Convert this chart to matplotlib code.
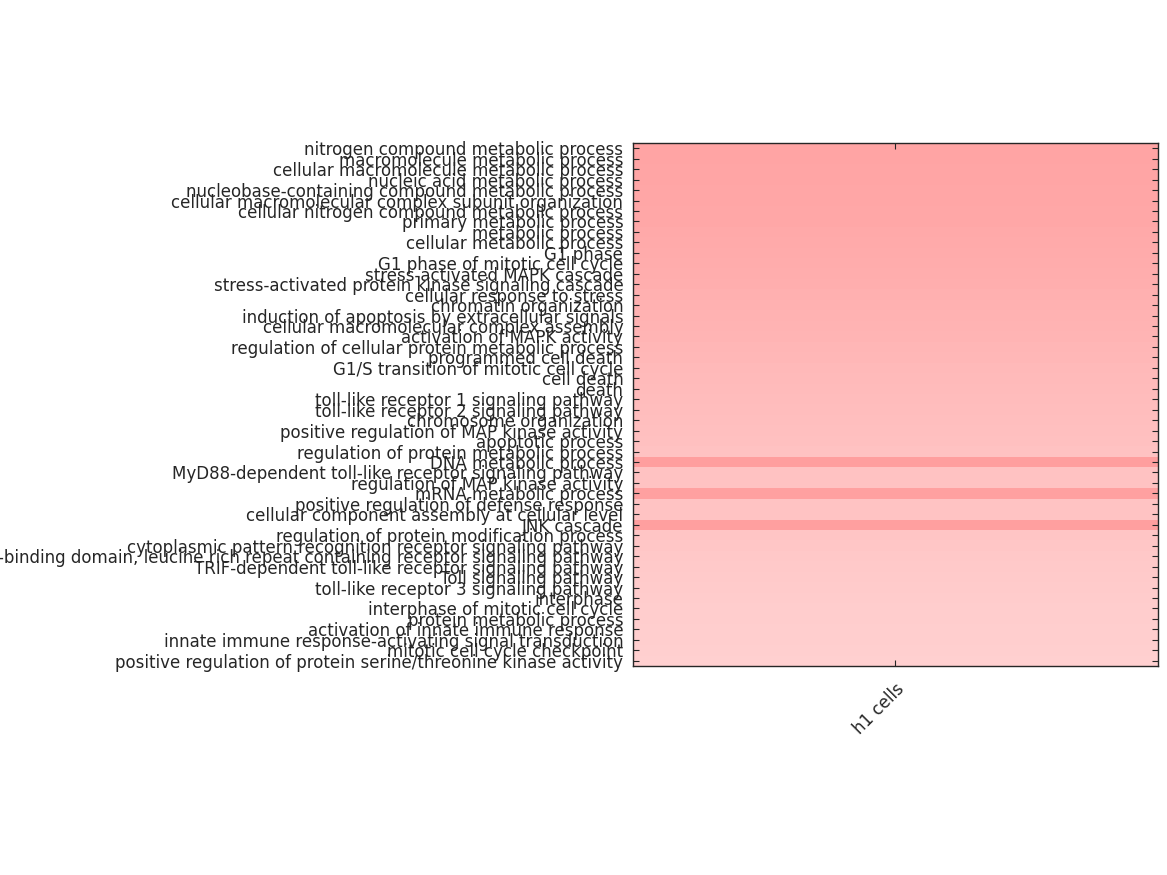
import numpy as np
import matplotlib
matplotlib.use("Agg")
import matplotlib.pyplot as plt
from matplotlib.colors import LinearSegmentedColormap

terms = [
    "nitrogen compound metabolic process",
    "macromolecule metabolic process",
    "cellular macromolecule metabolic process",
    "nucleic acid metabolic process",
    "nucleobase-containing compound metabolic process",
    "cellular macromolecular complex subunit organization",
    "cellular nitrogen compound metabolic process",
    "primary metabolic process",
    "metabolic process",
    "cellular metabolic process",
    "G1 phase",
    "G1 phase of mitotic cell cycle",
    "stress-activated MAPK cascade",
    "stress-activated protein kinase signaling cascade",
    "cellular response to stress",
    "chromatin organization",
    "induction of apoptosis by extracellular signals",
    "cellular macromolecular complex assembly",
    "activation of MAPK activity",
    "regulation of cellular protein metabolic process",
    "programmed cell death",
    "G1/S transition of mitotic cell cycle",
    "cell death",
    "death",
    "toll-like receptor 1 signaling pathway",
    "toll-like receptor 2 signaling pathway",
    "chromosome organization",
    "positive regulation of MAP kinase activity",
    "apoptotic process",
    "regulation of protein metabolic process",
    "DNA metabolic process",
    "MyD88-dependent toll-like receptor signaling pathway",
    "regulation of MAP kinase activity",
    "mRNA metabolic process",
    "positive regulation of defense response",
    "cellular component assembly at cellular level",
    "JNK cascade",
    "regulation of protein modification process",
    "cytoplasmic pattern recognition receptor signaling pathway",
    "nucleotide-binding domain, leucine rich repeat containing receptor signaling pathway",
    "TRIF-dependent toll-like receptor signaling pathway",
    "Toll signaling pathway",
    "toll-like receptor 3 signaling pathway",
    "interphase",
    "interphase of mitotic cell cycle",
    "protein metabolic process",
    "activation of innate immune response",
    "innate immune response-activating signal transduction",
    "mitotic cell cycle checkpoint",
    "positive regulation of protein serine/threonine kinase activity",
]

samples = ["h1 cells"]

h1_values = [
    0.80, 0.80, 0.79, 0.78, 0.77, 0.76, 0.75, 0.74, 0.72, 0.70,
    0.67, 0.65, 0.63, 0.61, 0.59, 0.57, 0.55, 0.53, 0.51, 0.48,
    0.45, 0.42, 0.40, 0.38, 0.36, 0.34, 0.32, 0.30, 0.28, 0.26,
    0.92, 0.26, 0.25, 0.88, 0.24, 0.23, 0.90, 0.19, 0.17, 0.14,
    0.12, 0.10, 0.08, 0.06, 0.05, 0.04, 0.03, 0.02, 0.01, 0.00,
]

data = np.array(h1_values).reshape(-1, 1)

cmap = LinearSegmentedColormap.from_list("pinks", ["#ffd0d0", "#ff9a9a"])

fig = plt.figure(figsize=(11.67, 8.75), dpi=100)
ax = fig.add_axes([0.5424, 0.2389, 0.4499, 0.5977])
ax.imshow(data, cmap=cmap, vmin=0, vmax=1, aspect="auto", interpolation="nearest")

ax.set_yticks(np.arange(len(terms)))
ax.set_yticklabels(terms, fontsize=12, color="#262626")
ax.set_xticks(np.arange(len(samples)))
ax.set_xticklabels(samples, fontsize=12, color="#262626", rotation=45,
                   ha="right", va="top", rotation_mode="anchor")

ax.tick_params(axis="y", direction="in", length=4, width=0.8, color="#262626",
               left=True, right=True, pad=7)
ax.tick_params(axis="x", direction="in", length=4, width=0.8, color="#262626",
               top=True, bottom=True, pad=10)
for s in ax.spines.values():
    s.set_color("#262626")
    s.set_linewidth(1.0)

fig.savefig("out.png", dpi=100)
